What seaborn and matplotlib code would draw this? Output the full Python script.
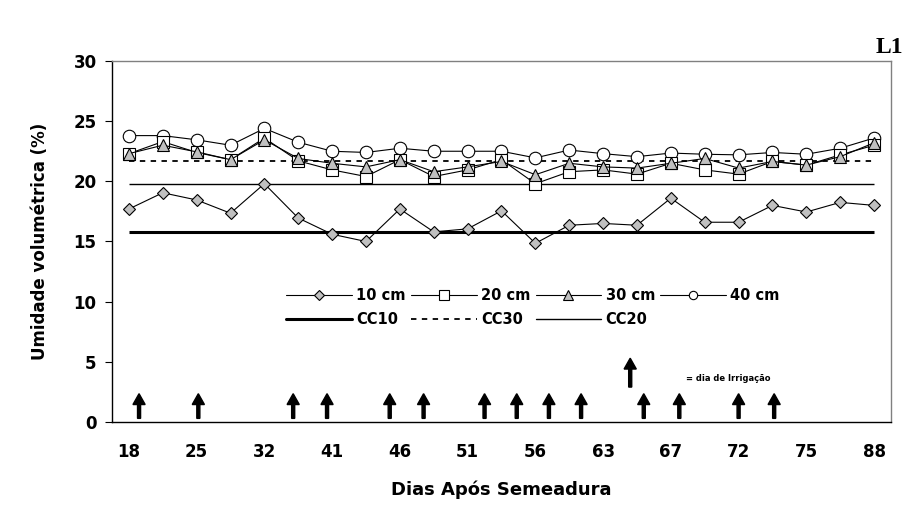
import matplotlib
matplotlib.use("Agg")
import matplotlib.pyplot as plt
from matplotlib.lines import Line2D
import numpy as np
import seaborn as sns

# ---- data (23 sampling dates, every 2nd one labelled)
tick_labels = ["18", "25", "32", "41", "46", "51", "56", "63", "67", "72", "75", "88"]
n_dates = 23

u10 = [17.7, 19.05, 18.45, 17.35, 19.8, 16.95, 15.6, 15.0, 17.7, 15.8, 16.05, 17.55,
       14.85, 16.35, 16.5, 16.35, 18.6, 16.6, 16.6, 18.0, 17.45, 18.25, 18.0]
u20 = [22.3, 23.3, 22.4, 21.8, 23.6, 21.7, 20.95, 20.4, 21.8, 20.4, 20.95, 21.8,
       19.8, 20.8, 20.95, 20.6, 21.5, 20.95, 20.6, 21.65, 21.35, 22.2, 23.0]
u30 = [22.3, 23.0, 22.45, 21.8, 23.45, 21.9, 21.5, 21.2, 21.8, 20.8, 21.2, 21.65,
       20.55, 21.5, 21.2, 21.1, 21.5, 21.9, 21.1, 21.65, 21.35, 22.05, 23.2]
u40 = [23.8, 23.8, 23.45, 23.0, 24.4, 23.25, 22.5, 22.4, 22.75, 22.5, 22.5, 22.5,
       21.95, 22.6, 22.3, 22.05, 22.35, 22.25, 22.2, 22.4, 22.25, 22.75, 23.6]

cc10 = 15.8
cc20 = 19.8
cc30 = 21.7

# irrigation days, in category units
irrig_x = [0.3, 2.05, 4.85, 5.85, 7.7, 8.7, 10.5, 11.45, 12.4, 13.35, 15.2, 16.25, 18.0, 19.05]

pos = np.arange(n_dates)

sns.set_style("white")
plt.rcParams["font.family"] = ["DejaVu Sans"]
plt.rcParams["font.weight"] = "bold"
for key in ["text.color", "axes.labelcolor", "xtick.color", "ytick.color"]:
    plt.rcParams[key] = "black"

fig = plt.figure(figsize=(9.08, 5.05), dpi=100)
ax = fig.add_axes([0.1233, 0.1644, 0.858, 0.7148])

gray = "#c0c0c0"
common = dict(color="black", linewidth=0.8, markeredgecolor="black", markeredgewidth=0.8, ax=ax)

# reference lines (field capacity per depth)
ax.hlines(cc10, pos[0], pos[-1], color="black", linewidth=2.2)
ax.hlines(cc20, pos[0], pos[-1], color="black", linewidth=1.0)
ax.hlines(cc30, pos[0], pos[-1], color="black", linewidth=1.3, linestyles=(0, (3, 3)))

sns.lineplot(x=pos, y=u10, marker="D", markersize=6.5, markerfacecolor=gray, **common)
sns.lineplot(x=pos, y=u40, marker="o", markersize=9, markerfacecolor="white", **common)
sns.lineplot(x=pos, y=u20, marker="s", markersize=8.5, markerfacecolor="white", **common)
sns.lineplot(x=pos, y=u30, marker="^", markersize=9, markerfacecolor=gray, **common)

# irrigation arrows
for x in irrig_x:
    ax.arrow(x, 0.3, 0, 2.05, width=0.09, head_width=0.36, head_length=0.9,
             length_includes_head=True, color="black")
ax.arrow(14.8, 2.9, 0, 2.4, width=0.09, head_width=0.36, head_length=0.9,
         length_includes_head=True, color="black")
ax.text(16.45, 3.6, "= dia de Irrigação", fontsize=6, fontweight="bold", va="center", ha="left")

# legend, built in the reference's column order
mk = dict(color="black", linewidth=0.8, markeredgecolor="black", markeredgewidth=0.8)
handles = [
    Line2D([], [], marker="D", markersize=5, markerfacecolor=gray, **mk),
    Line2D([], [], color="black", linewidth=2.2),
    Line2D([], [], marker="s", markersize=6.5, markerfacecolor="white", **mk),
    Line2D([], [], color="black", linewidth=1.3, linestyle=(0, (3, 3))),
    Line2D([], [], marker="^", markersize=7, markerfacecolor=gray, **mk),
    Line2D([], [], color="black", linewidth=1.0),
    Line2D([], [], marker="o", markersize=6, markerfacecolor="white", **mk),
]
labels = ["10 cm", "CC10", "20 cm", "CC30", "30 cm", "CC20", "40 cm"]
ax.legend(handles, labels, ncol=4, loc="upper left", bbox_to_anchor=(0.224, 0.37),
          frameon=False, handlelength=4.5, handletextpad=0.3,
          columnspacing=0.35, labelspacing=0.6, borderpad=0, borderaxespad=0,
          prop={"weight": "bold", "size": 10.5})

# axes
ax.set_xlim(-0.5, n_dates - 0.5)
ax.set_ylim(0, 30)
ax.set_yticks(np.arange(0, 31, 5))
ax.set_xticks(pos[::2])
ax.set_xticklabels(tick_labels)
ax.set_xticks(np.arange(-0.5, n_dates, 1), minor=True)
ax.tick_params(axis="x", which="major", length=0, pad=15, labelsize=12)
ax.tick_params(axis="x", which="minor", length=4, width=0.8, direction="out", color="black")
ax.tick_params(axis="y", length=5, width=0.8, direction="out", pad=6, labelsize=12, left=True)
for t in ax.get_xticklabels() + ax.get_yticklabels():
    t.set_fontweight("bold")

for side in ["left", "bottom"]:
    ax.spines[side].set_color("black")
    ax.spines[side].set_linewidth(1.0)
for side in ["top", "right"]:
    ax.spines[side].set_color("#808080")
    ax.spines[side].set_linewidth(1.0)

ax.set_xlabel("Dias Após Semeadura", fontsize=13, fontweight="bold", labelpad=14)
ax.set_ylabel("Umidade volumétrica (%)", fontsize=12, fontweight="bold", labelpad=18)

fig.text(0.995, 0.905, "L1", fontsize=17, fontweight="bold", family="Liberation Serif",
         ha="right", va="center")

fig.savefig("out.png", dpi=100)
